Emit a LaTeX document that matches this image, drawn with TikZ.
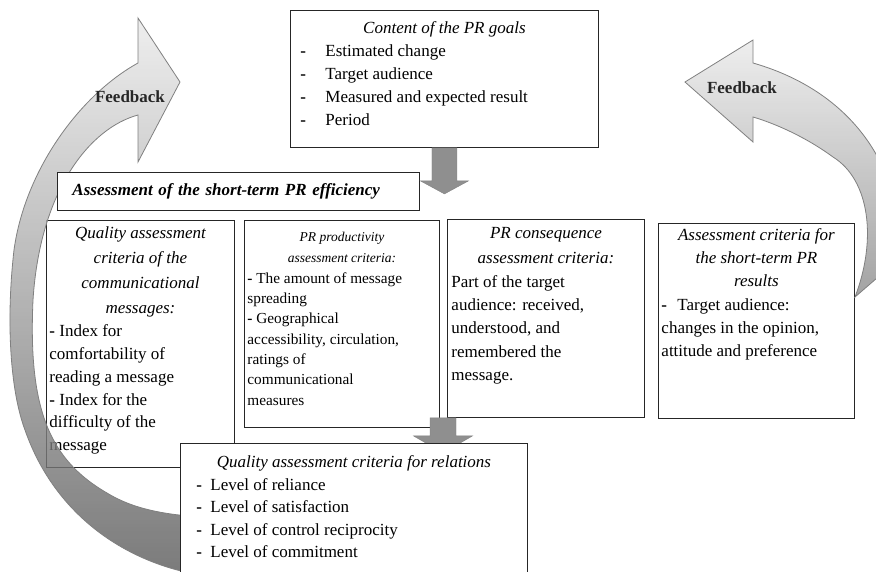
\documentclass[tikz,border=0pt]{standalone}
\usepackage{fontspec}
\setmainfont{Liberation Serif}
\usetikzlibrary{calc}
\definecolor{arrowgray}{RGB}{143,143,143}
\definecolor{edgegray}{RGB}{128,128,128}
\tikzset{
    cell/.style={
        draw=black!85,
        line width=0.9pt,
        fill=white,
        anchor=north west,
        inner ysep=0pt,
        inner xsep=3pt,
        font=\fontsize{17}{22.8}\selectfont
    },
    blockarrow/.style={fill=arrowgray, draw=arrowgray!90!black, line width=0.4pt},
    bentarrow/.style={draw=edgegray, line width=0.8pt, fill opacity=0.8},
    fbtext/.style={font=\fontsize{17}{20}\selectfont\bfseries, text=black!85}
}
\newcommand{\boxbody}[4]{\parbox[c][#2][t]{#1}{\vspace*{#3}\rule{0pt}{12pt}#4}}
\newcommand{\dashitem}[2]{\makebox[#1][l]{\textbf{-}}#2}

\begin{document}
\begin{tikzpicture}[x=1pt, y=-1pt]
    \useasboundingbox (0,0) rectangle (876,571);
    \fill[white] (0,0) rectangle (876,571);
    \clip (0,0) rectangle (876,571);

    \node[cell] (msg) at (46,220) {\boxbody{182pt}{247pt}{6.5pt}{%
        {\centering\itshape\fontsize{17}{25}\selectfont Quality assessment\\criteria of the\\communicational\\messages:\par}
        \textbf{-} Index for\\comfortability of\\reading a message\\\textbf{-} Index for the\\difficulty of the\\message}};

    % feedback loop, left
    \draw[bentarrow, top color=black!8, bottom color=black!65]
        (138,63) -- (138,18) -- (180,82) -- (138,162) -- (138,115)
        .. controls (90,128) and (40,190) .. (33,300)
        .. controls (28,410) and (50,460) .. (107,493)
        .. controls (135,510) and (170,517) .. (230,518)
        -- (230,578)
        .. controls (150,575) and (60,530) .. (25,430)
        .. controls (10,390) and (6,320) .. (14,250)
        .. controls (25,170) and (80,95) .. (138,63) -- cycle;

    \node[cell, inner xsep=15pt, text width=332pt, minimum height=38pt, align=left,
        font=\fontsize{17}{20}\selectfont\bfseries\itshape] (short) at (57,172)
        {Assessment of the short-term PR efficiency};

    \node[cell, inner xsep=10pt] (goals) at (290,10) {\boxbody{288pt}{137pt}{11.5pt}{%
        {\centering\itshape Content of the PR goals\par}
        \dashitem{25pt}{Estimated change}\\
        \dashitem{25pt}{Target audience}\\
        \dashitem{25pt}{Measured and expected result}\\
        \dashitem{25pt}{Period}}};

    \node[cell] (prod) at (244,220) {\boxbody{189pt}{207pt}{9.5pt}{%
        {\centering\itshape\fontsize{13.5}{21}\selectfont PR productivity\\assessment criteria:\par}
        \fontsize{15.3}{20.3}\selectfont
        \textbf{-} The amount of message\\spreading\\\textbf{-} Geographical\\accessibility, circulation,\\ratings of\\communicational\\measures}};

    \node[cell, inner xsep=4pt] (conseq) at (447,219) {\boxbody{189pt}{198pt}{7.5pt}{%
        {\centering\itshape\fontsize{17}{25}\selectfont PR consequence\\assessment criteria:\par}
        \fontsize{17}{23.3}\selectfont
        Part of the target\\audience: received,\\understood, and\\remembered the\\message.}};

    \node[cell] (res) at (658,223) {\boxbody{190pt}{195pt}{5.5pt}{%
        {\centering\itshape\fontsize{17}{23}\selectfont Assessment criteria for\\the short-term PR\\results\par}
        \fontsize{17}{23.3}\selectfont
        \dashitem{16pt}{Target audience:}\\changes in the opinion,\\attitude and preference}};

    % feedback loop, right
    \draw[bentarrow, top color=black!8, bottom color=black!45]
        (685,82) -- (753,40) -- (753,63)
        .. controls (830,85) and (890,140) .. (900,230)
        -- (892,265) -- (855,297)
        .. controls (877,240) and (870,180) .. (833,157)
        .. controls (810,140) and (780,125) .. (753,117)
        -- (753,142) -- cycle;

    \node[fbtext] (fbleft) at (130,97) {Feedback};
    \node[fbtext] (fbright) at (742,88) {Feedback};

    \draw[blockarrow] ([xshift=-12.5pt]goals.south) -- ++(0,33) -- ++(-11.5,0)
        -- ++(24,13) -- ++(24,-13) -- ++(-11.5,0) -- ++(0,-33) -- cycle;
    \draw[blockarrow] ([xshift=-17pt]conseq.south west) -- ++(0,18) -- ++(-16.5,0)
        -- ++(29.5,17) -- ++(29.5,-17) -- ++(-16.5,0) -- ++(0,-18) -- cycle;

    \node[cell, inner xsep=16pt] (rel) at (180,443) {\boxbody{315pt}{150pt}{12.5pt}{%
        {\centering\itshape Quality assessment criteria for relations\par}
        \fontsize{17}{22.5}\selectfont
        \dashitem{14pt}{Level of reliance}\\
        \dashitem{14pt}{Level of satisfaction}\\
        \dashitem{14pt}{Level of control reciprocity}\\
        \dashitem{14pt}{Level of commitment}}};
\end{tikzpicture}
\end{document}
